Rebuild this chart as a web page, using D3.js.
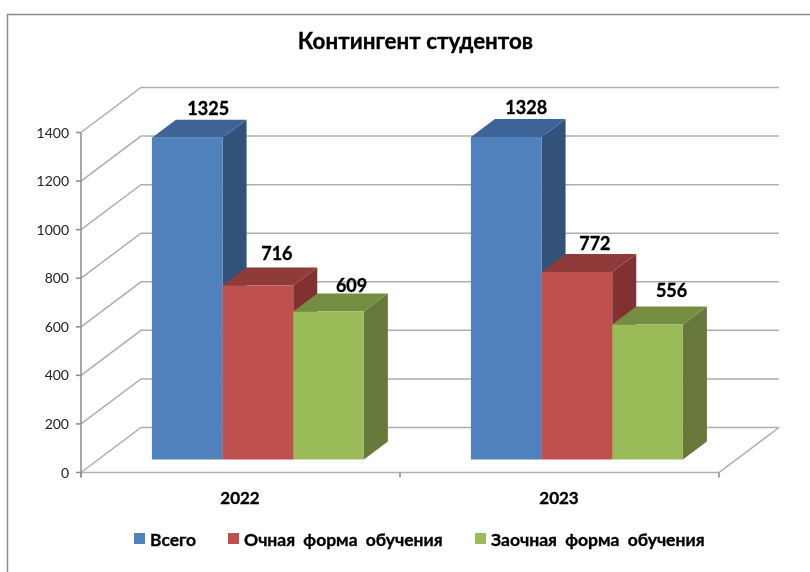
<!DOCTYPE html>
<html>
<head>
<meta charset="utf-8">
<script src="https://cdn.jsdelivr.net/npm/d3@7"></script>
<style>
  html, body { margin: 0; background: #fff; }
  svg { display: block; filter: blur(0.4px); }
  text { font-family: Lato, "Open Sans", sans-serif; }
  text.heavy { font-weight: 700; stroke: #000; stroke-width: 0.35px; }
</style>
</head>
<body>
<div id="chart"></div>
<script>
const titleText = 'Контингент студентов'
const years = ['2022', '2023']
const seriesNames = ['Всего', 'Очная форма обучения', 'Заочная форма обучения']
const vsego = [1325, 1328]
const ochnaya = [716, 772]
const zaochnaya = [609, 556]
const yTicks = [0, 200, 400, 600, 800, 1000, 1200, 1400]

const frontColors = ['#4f81bd', '#c0504d', '#9bbb59']
const topColors = ['#3e6497', '#8e3b39', '#748d41']
const sideColors = ['#335279', '#7f3230', '#66793a']

const width = 810, height = 572
const svg = d3.select('#chart').append('svg').attr('width', width).attr('height', height)

// oblique projection: depth 0 is the front of the floor, 1 the back wall
const x0 = d3.scaleBand().domain(years).range([81, 719])
const x1 = d3.scaleBand().domain(d3.range(3)).range([0, 212])
const y = d3.scaleLinear().domain([0, 1400]).range([472.5, 132.5])
const depthX = d3.scaleLinear().domain([0, 1]).range([0, 60])
const depthY = d3.scaleLinear().domain([0, 1]).range([0, -45])
const pt = (px, v, d) => [px + depthX(d), y(v) + depthY(d)]
const line = d3.line()

// outer frame
svg.append('path')
  .attr('d', 'M7.5,572V14.5H810')
  .attr('fill', 'none').attr('stroke', '#8c8c8c').attr('stroke-width', 1.5)

// walls and gridlines
const [left, right] = x0.range()
const grid = svg.append('g').attr('fill', 'none').attr('stroke', '#aeaeae').attr('stroke-width', 1.5)
yTicks.forEach(t => {
  grid.append('path').attr('d', line([pt(left, t, 0), pt(left, t, 1), pt(right, t, 1)]))
})
grid.append('path').attr('d', line([pt(left, 0, 0), pt(right, 0, 0), pt(right, 0, 1)]))

// value axis
const axis = svg.append('g')
axis.append('line')
  .attr('x1', left).attr('x2', left).attr('y1', y(1400)).attr('y2', y(0) + 5)
  .attr('stroke', '#8c8c8c').attr('stroke-width', 1.5)
yTicks.forEach(t => {
  axis.append('line').attr('x1', left - 5).attr('x2', left).attr('y1', y(t)).attr('y2', y(t))
    .attr('stroke', '#8c8c8c').attr('stroke-width', 1.5)
  axis.append('text').attr('x', left - 12).attr('y', y(t) + 5)
    .attr('text-anchor', 'end').attr('font-size', 14).attr('fill', '#222').text(t)
})
// category ticks
x0.domain().concat('end').forEach((c, i) => {
  const px = i < years.length ? x0(c) : right
  axis.append('line').attr('x1', px).attr('x2', px).attr('y1', y(0)).attr('y2', y(0) + 5)
    .attr('stroke', '#8c8c8c').attr('stroke-width', 1.5)
})

// bars
const values = [vsego, ochnaya, zaochnaya]
const d0 = 0.29, d1 = 0.69
// label nudges per series and year, the source placed them by hand
const labelDx = [[-3, -4], [-5, -6], [-1, 0]]
const labelDy = [[-5, -5], [-8, -4], [-2, -9]]
years.forEach((yr, i) => {
  const start = x0(yr) + (x0.bandwidth() - x1.range()[1]) / 2
  values.forEach((vals, s) => {
    const v = vals[i]
    const a = start + x1(s), b = a + x1.bandwidth()
    const g = svg.append('g')
    g.append('path').attr('fill', sideColors[s])
      .attr('d', line([pt(b, 0, d0), pt(b, 0, d1), pt(b, v, d1), pt(b, v, d0)]) + 'Z')
    g.append('path').attr('fill', topColors[s])
      .attr('d', line([pt(a, v, d0), pt(b, v, d0), pt(b, v, d1), pt(a, v, d1)]) + 'Z')
    g.append('path').attr('fill', frontColors[s])
      .attr('d', line([pt(a, 0, d0), pt(b, 0, d0), pt(b, v, d0), pt(a, v, d0)]) + 'Z')
    const lab = pt((a + b) / 2, v, d1)
    g.append('text').attr('class', 'heavy')
      .attr('x', lab[0] + labelDx[s][i]).attr('y', lab[1] + labelDy[s][i])
      .attr('text-anchor', 'middle').attr('font-size', 18)
      .attr('fill', '#000').text(v)
  })
  svg.append('text').attr('class', 'heavy')
    .attr('x', x0(yr) + x0.bandwidth() / 2 - 0.5).attr('y', 504)
    .attr('text-anchor', 'middle').attr('font-size', 17)
    .attr('fill', '#000').text(yr)
})

svg.append('text').attr('class', 'heavy').attr('x', 415.5).attr('y', 49)
  .attr('text-anchor', 'middle').attr('font-size', 22.4)
  .attr('fill', '#000').text(titleText)

// legend
const legendX = [134, 228, 475]
seriesNames.forEach((n, s) => {
  svg.append('rect').attr('x', legendX[s]).attr('y', 533).attr('width', 11).attr('height', 11)
    .attr('fill', frontColors[s])
  svg.append('text').attr('class', 'heavy').attr('x', legendX[s] + 16).attr('y', 545.5)
    .attr('font-size', 17.5).attr('word-spacing', 4)
    .attr('fill', '#000').text(n)
})
</script>
</body>
</html>
